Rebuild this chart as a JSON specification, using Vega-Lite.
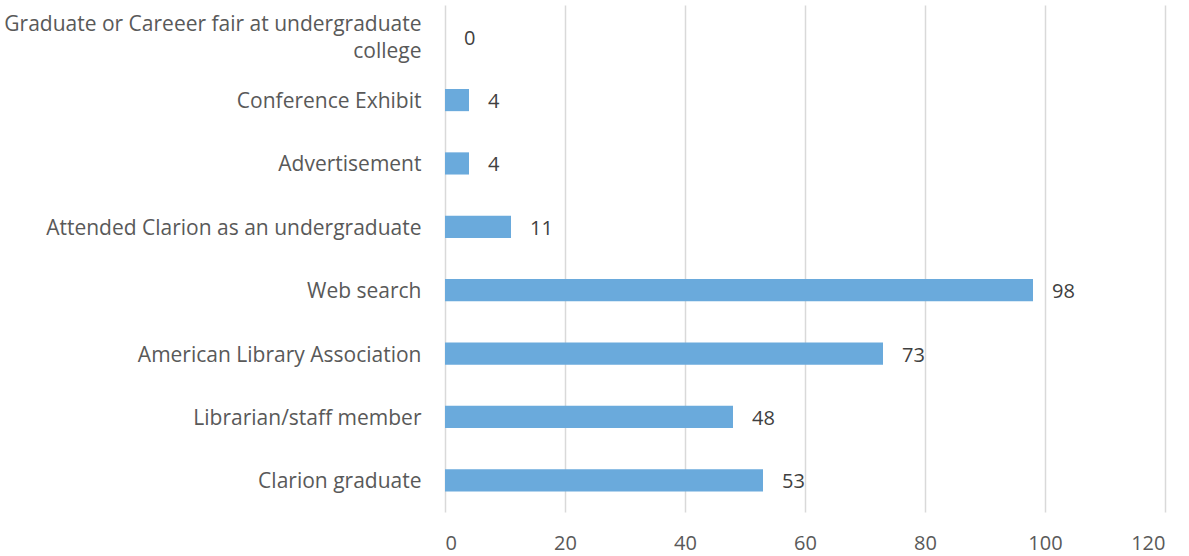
{
  "$schema": "https://vega.github.io/schema/vega-lite/v6.json",
  "width": 720,
  "height": 507,
  "autosize": {"type": "none"},
  "padding": {"left": 445, "top": 5, "right": 24, "bottom": 44},
  "background": "white",
  "config": {
    "view": {"stroke": null},
    "font": "Open Sans"
  },
  "data": {
    "values": [
      {"source": "Graduate or Careeer fair at undergraduate college", "count": 0},
      {"source": "Conference Exhibit", "count": 4},
      {"source": "Advertisement", "count": 4},
      {"source": "Attended Clarion as an undergraduate", "count": 11},
      {"source": "Web search", "count": 98},
      {"source": "American Library Association", "count": 73},
      {"source": "Librarian/staff member", "count": 48},
      {"source": "Clarion graduate", "count": 53}
    ]
  },
  "encoding": {
    "y": {
      "field": "source",
      "type": "nominal",
      "sort": null,
      "title": null,
      "scale": {"paddingInner": 0.65, "paddingOuter": 0.325},
      "axis": {
        "domain": false,
        "ticks": false,
        "labelPadding": 24,
        "labelFontSize": 21,
        "labelColor": "#595959",
        "labelLineHeight": 27,
        "labelLimit": 500,
        "labelOffset": {"condition": {"test": "datum.value == 'Graduate or Careeer fair at undergraduate college'", "value": -12}, "value": 2},
        "labelExpr": "datum.value == 'Graduate or Careeer fair at undergraduate college' ? ['Graduate or Careeer fair at undergraduate', 'college'] : datum.label"
      }
    },
    "x": {
      "field": "count",
      "type": "quantitative",
      "title": null,
      "scale": {"domain": [0, 120], "nice": false},
      "axis": {
        "values": [0, 20, 40, 60, 80, 100, 120],
        "domain": false,
        "ticks": false,
        "grid": true,
        "gridColor": "#d9d9d9",
        "gridWidth": 1.5,
        "labelPadding": 21,
        "labelFontSize": 20,
        "labelColor": "#595959"
      }
    }
  },
  "layer": [
    {"mark": {"type": "bar", "color": "#6aaadc"}},
    {
      "mark": {"type": "text", "align": "left", "dx": 19, "dy": 2, "fontSize": 20, "color": "#404040", "baseline": "middle"},
      "encoding": {"text": {"field": "count", "type": "quantitative"}}
    }
  ]
}
